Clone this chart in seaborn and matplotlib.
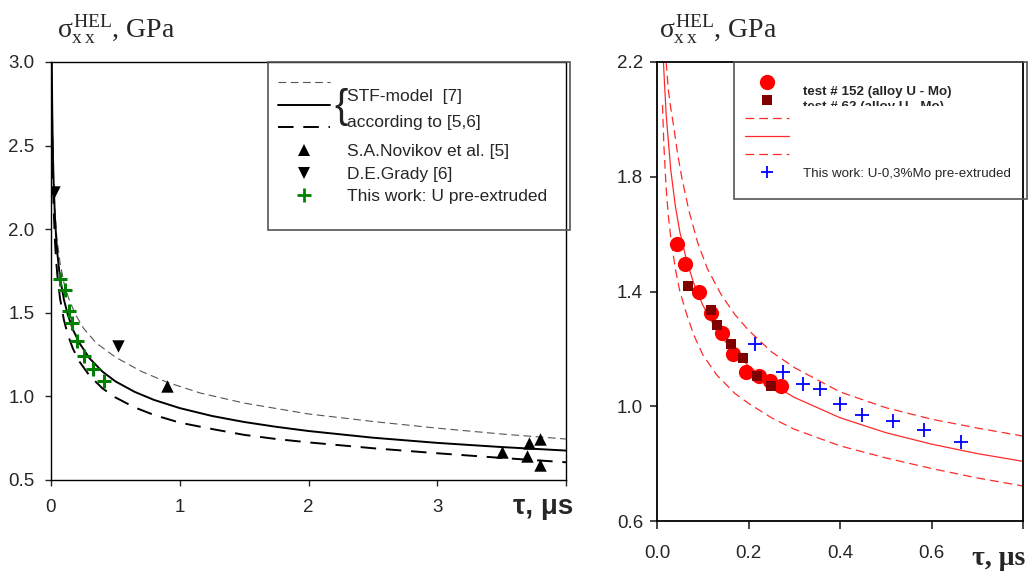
import matplotlib
matplotlib.use("Agg")
import matplotlib.pyplot as plt
import seaborn as sns
from matplotlib.lines import Line2D
from matplotlib.patches import Rectangle

# ---------------- data ----------------
# Left panel: uranium
novikov_tau = [0.90, 3.50, 3.71, 3.70, 3.80, 3.80]
novikov_sig = [1.065, 0.67, 0.72, 0.644, 0.744, 0.59]
grady_tau = [0.02, 0.52]
grady_sig = [2.22, 1.30]
u_tau = [0.07, 0.11, 0.14, 0.165, 0.20, 0.26, 0.33, 0.41]
u_sig = [1.70, 1.635, 1.51, 1.44, 1.33, 1.24, 1.165, 1.095]

stf_mid_tau = [0.006, 0.007, 0.01, 0.015, 0.02, 0.03, 0.04, 0.05, 0.07, 0.1, 0.13,
               0.17, 0.22, 0.3, 0.4, 0.5, 0.65, 0.8, 1.0, 1.25, 1.5, 1.75, 2.0,
               2.5, 3.0, 3.5, 4.0]
stf_mid_sig = [3.02, 2.91, 2.68, 2.44, 2.29, 2.08, 1.95, 1.85, 1.71, 1.58, 1.49,
               1.40, 1.32, 1.227, 1.148, 1.09, 1.027, 0.979, 0.93, 0.883, 0.847,
               0.818, 0.793, 0.753, 0.722, 0.697, 0.676]
stf_up_tau = [0.005, 0.008, 0.012, 0.02, 0.03, 0.045, 0.07, 0.1, 0.14, 0.19, 0.25,
              0.35, 0.5, 0.7, 0.9, 1.16, 1.5, 2.0, 2.5, 3.0, 3.5, 4.0]
stf_up_sig = [3.0, 2.75, 2.55, 2.3, 2.12, 1.95, 1.80, 1.68, 1.58, 1.49, 1.41,
              1.32, 1.235, 1.15, 1.085, 1.02, 0.96, 0.895, 0.85, 0.81, 0.775, 0.745]
stf_lo_tau = [0.006, 0.01, 0.015, 0.02, 0.03, 0.04, 0.05, 0.07, 0.1, 0.13, 0.17,
              0.22, 0.3, 0.4, 0.5, 0.65, 0.8, 1.0, 1.25, 1.5, 1.75, 2.0, 2.5,
              3.0, 3.5, 4.0]
stf_lo_sig = [2.85, 2.52, 2.29, 2.14, 1.94, 1.81, 1.72, 1.587, 1.458, 1.37, 1.286,
              1.209, 1.123, 1.048, 0.994, 0.934, 0.889, 0.843, 0.805, 0.77, 0.745,
              0.725, 0.69, 0.66, 0.632, 0.606]

# Right panel: U-Mo alloy
t152_tau = [0.043, 0.061, 0.092, 0.117, 0.142, 0.167, 0.195, 0.224, 0.248, 0.271]
t152_sig = [1.566, 1.497, 1.40, 1.326, 1.256, 1.183, 1.12, 1.106, 1.088, 1.07]
t62_tau = [0.068, 0.119, 0.132, 0.161, 0.188, 0.218, 0.249]
t62_sig = [1.418, 1.335, 1.284, 1.217, 1.167, 1.106, 1.07]
umo_tau = [0.215, 0.275, 0.319, 0.356, 0.399, 0.447, 0.515, 0.583, 0.664]
umo_sig = [1.218, 1.118, 1.077, 1.059, 1.007, 0.968, 0.947, 0.916, 0.876]

r_mid_tau = [0.014, 0.02, 0.03, 0.04, 0.05, 0.065, 0.08, 0.1, 0.125, 0.15, 0.2,
             0.25, 0.3, 0.4, 0.5, 0.6, 0.7, 0.8]
r_mid_sig = [2.20, 2.017, 1.825, 1.699, 1.607, 1.506, 1.43, 1.353, 1.28, 1.224,
             1.14, 1.078, 1.031, 0.96, 0.908, 0.868, 0.835, 0.808]
r_up_tau = [0.02, 0.025, 0.03, 0.037, 0.045, 0.055, 0.07, 0.089, 0.11, 0.14, 0.17,
            0.2, 0.25, 0.3, 0.4, 0.5, 0.6, 0.7, 0.8]
r_up_sig = [2.2, 2.1, 2.04, 1.97, 1.88, 1.79, 1.68, 1.57, 1.48, 1.39, 1.32,
            1.265, 1.19, 1.135, 1.05, 0.995, 0.955, 0.924, 0.896]
r_lo_tau = [0.012, 0.015, 0.02, 0.025, 0.03, 0.04, 0.05, 0.065, 0.08, 0.1, 0.13,
            0.17, 0.2, 0.25, 0.3, 0.4, 0.5, 0.6, 0.7, 0.8]
r_lo_sig = [2.05, 1.91, 1.76, 1.66, 1.59, 1.48, 1.40, 1.32, 1.25, 1.18, 1.11,
            1.045, 1.01, 0.96, 0.92, 0.862, 0.82, 0.783, 0.75, 0.722]

left_xticks = [0, 1, 2, 3, 4]
left_xlabels = ["0", "1", "2", "3", ""]
left_yticks = [0.5, 1.0, 1.5, 2.0, 2.5, 3.0]
right_xticks = [0.0, 0.2, 0.4, 0.6, 0.8]
right_xlabels = ["0.0", "0.2", "0.4", "0.6", ""]
right_yticks = [0.6, 1.0, 1.4, 1.8, 2.2]

# ---------------- style ----------------
sns.set_style("ticks")
plt.rcParams["font.family"] = ["Liberation Sans", "DejaVu Sans"]
plt.rcParams["mathtext.fontset"] = "custom"
plt.rcParams["mathtext.rm"] = "Liberation Serif"
plt.rcParams["mathtext.it"] = "Liberation Serif"
plt.rcParams["mathtext.bf"] = "Liberation Serif:bold"

W, H = 1035, 573


def fx(p):
    return p / W


def fy(p):
    return 1 - p / H


fig = plt.figure(figsize=(W / 100, H / 100), dpi=100)
ax1 = fig.add_axes([fx(51), fy(480), (566 - 51) / W, (480 - 62) / H])
ax2 = fig.add_axes([fx(657), fy(521), (1023 - 657) / W, (521 - 62) / H])

DASH = (0, (7, 4))

# ---------------- left panel ----------------
sns.lineplot(x=stf_up_tau, y=stf_up_sig, ax=ax1, color="#555555", lw=0.8,
             linestyle=DASH, sort=False, estimator=None)
sns.lineplot(x=stf_mid_tau, y=stf_mid_sig, ax=ax1, color="black", lw=1.4,
             sort=False, estimator=None)
sns.lineplot(x=stf_lo_tau, y=stf_lo_sig, ax=ax1, color="black", lw=1.4,
             linestyle=(0, (8, 5)), sort=False, estimator=None)
sns.scatterplot(x=novikov_tau, y=novikov_sig, ax=ax1, marker="^", s=80,
                color="black", linewidth=0, zorder=5)
sns.scatterplot(x=grady_tau, y=grady_sig, ax=ax1, marker="v", s=80,
                color="black", linewidth=0, zorder=5)
sns.scatterplot(x=u_tau, y=u_sig, ax=ax1, marker="+", s=110,
                color="green", linewidth=2.2, zorder=6)

ax1.set_xlim(0, 4)
ax1.set_ylim(0.5, 3.0)
ax1.set_xticks(left_xticks)
ax1.set_xticklabels(left_xlabels)
ax1.set_yticks(left_yticks)
ax1.set_yticklabels([f"{v:.1f}" for v in left_yticks])
ax1.tick_params(axis="x", length=4, width=1, pad=10, labelsize=13.5)
ax1.tick_params(axis="y", length=4, width=1, pad=8, labelsize=13.5)
for s in ax1.spines.values():
    s.set_color("black")
    s.set_linewidth(1.0)
ax1.set_xlabel("")
ax1.set_ylabel("")

# left legend
lh = [
    Line2D([], [], color="#555555", lw=0.8, linestyle=DASH),
    Line2D([], [], color="black", lw=1.4),
    Line2D([], [], color="black", lw=1.4, linestyle=(0, (8, 5))),
    Line2D([], [], color="black", marker="^", ls="none", ms=9, mew=0),
    Line2D([], [], color="black", marker="v", ls="none", ms=9, mew=0),
    Line2D([], [], color="green", marker="+", ls="none", ms=10, mew=2),
]
ll = [" ", " ", " ", "S.A.Novikov et al. [5]", "D.E.Grady [6]",
      "This work: U pre-extruded"]
leg1 = fig.legend(lh, ll, loc="upper left", bbox_to_anchor=(fx(278), fy(76)),
                  bbox_transform=fig.transFigure, frameon=False, fontsize=12.5,
                  handlelength=3.0, handletextpad=1.0, labelspacing=0.43,
                  borderpad=0, borderaxespad=0)
fig.add_artist(Rectangle((fx(268), fy(230)), (570 - 268) / W, (230 - 62) / H,
                         transform=fig.transFigure, fill=False,
                         edgecolor="#555555", lw=1.2))
fig.text(fx(334), fy(107), "{", fontsize=29, va="center", ha="left",
         color="#222222")
fig.text(fx(347), fy(97), "STF-model  [7]", fontsize=12.5, va="center")
fig.text(fx(347), fy(122), "according to [5,6]", fontsize=12.5, va="center")

# ---------------- right panel ----------------
RED = "#ff2a2a"
sns.lineplot(x=r_up_tau, y=r_up_sig, ax=ax2, color=RED, lw=0.9,
             linestyle=DASH, sort=False, estimator=None)
sns.lineplot(x=r_mid_tau, y=r_mid_sig, ax=ax2, color=RED, lw=0.9,
             sort=False, estimator=None)
sns.lineplot(x=r_lo_tau, y=r_lo_sig, ax=ax2, color=RED, lw=0.9,
             linestyle=DASH, sort=False, estimator=None)
sns.scatterplot(x=t152_tau, y=t152_sig, ax=ax2, marker="o", s=120,
                color="#ff0000", linewidth=0, zorder=5)
sns.scatterplot(x=t62_tau, y=t62_sig, ax=ax2, marker="s", s=45,
                color="#800000", linewidth=0, zorder=6)
sns.scatterplot(x=umo_tau, y=umo_sig, ax=ax2, marker="+", s=90,
                color="#0000ff", linewidth=1.3, zorder=6)

ax2.set_xlim(0, 0.8)
ax2.set_ylim(0.6, 2.2)
ax2.set_xticks(right_xticks)
ax2.set_xticklabels(right_xlabels)
ax2.set_yticks(right_yticks)
ax2.set_yticklabels([f"{v:.1f}" for v in right_yticks])
ax2.tick_params(axis="x", length=6, width=1.2, pad=11, labelsize=13.5)
ax2.tick_params(axis="y", length=5, width=1.2, pad=5, labelsize=13.5)
for s in ax2.spines.values():
    s.set_color("black")
    s.set_linewidth(1.3)
ax2.set_xlabel("")
ax2.set_ylabel("")

# right legend
rh = [
    Line2D([], [], color="#ff0000", marker="o", ls="none", ms=11, mew=0),
    Line2D([], [], color="#800000", marker="s", ls="none", ms=7, mew=0),
    Line2D([], [], color=RED, lw=0.9, linestyle=DASH),
    Line2D([], [], color=RED, lw=0.9),
    Line2D([], [], color=RED, lw=0.9, linestyle=DASH),
    Line2D([], [], color="#0000ff", marker="+", ls="none", ms=9, mew=1.3),
]
rl = [" ", " ", " ", " ", " ", "This work: U-0,3%Mo pre-extruded"]
leg2 = fig.legend(rh, rl, loc="upper left", bbox_to_anchor=(fx(745), fy(77)),
                  bbox_transform=fig.transFigure, frameon=False, fontsize=9.6,
                  handlelength=3.3, handletextpad=1.05, labelspacing=0.43,
                  borderpad=0, borderaxespad=0)
fig.add_artist(Rectangle((fx(734), fy(199)), (1027 - 734) / W, (199 - 62) / H,
                         transform=fig.transFigure, fill=False,
                         edgecolor="#555555", lw=1.2))
fig.text(fx(803), fy(95), "test # 152 (alloy U - Mo)", fontsize=9.6,
         fontweight="bold", va="baseline")
t62 = fig.text(fx(803), fy(110), "test # 62 (alloy U - Mo)", fontsize=9.6,
               fontweight="bold", va="baseline")
clip = Rectangle((0, fy(106)), 1, 1 - fy(106), transform=fig.transFigure)
t62.set_clip_path(clip)
t62.set_clip_on(True)

# ---------------- titles / axis labels ----------------
title = r"$\sigma_{\mathrm{x\,x}}^{\mathrm{HEL}}$, GPa"
fig.text(fx(57), fy(37), title, fontsize=20, family="Liberation Serif",
         va="baseline")
fig.text(fx(659), fy(37), title, fontsize=20, family="Liberation Serif",
         va="baseline")
fig.text(fx(513), fy(514), "τ, μs", fontsize=20, fontweight="bold",
         va="baseline")
fig.text(fx(972), fy(565), "τ, μs", fontsize=20, fontweight="bold",
         family="Liberation Serif", va="baseline")

fig.savefig("out.png", dpi=100)
